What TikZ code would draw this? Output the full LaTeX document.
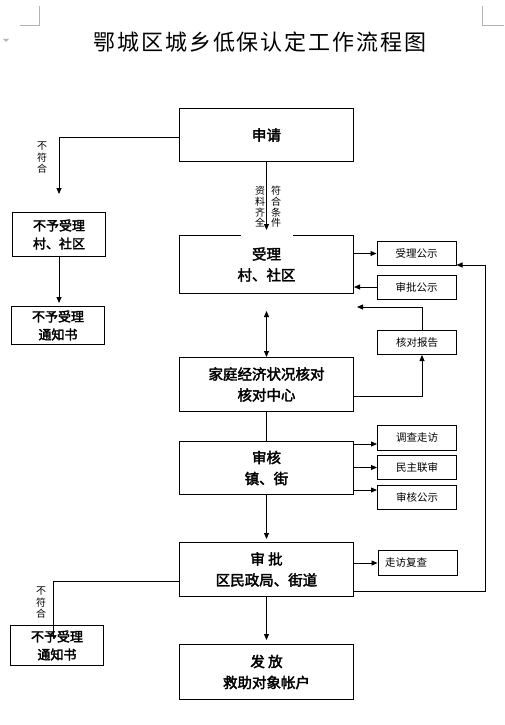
\documentclass[tikz,border=0pt]{standalone}
\usepackage{fontspec}
\setmainfont{Noto Sans CJK SC}[AutoFakeBold=2.5]
\newfontfamily\titlefont{Noto Sans CJK SC}[LetterSpace=9]
\usepackage{tikz}
\usetikzlibrary{positioning,arrows.meta,calc}

\begin{document}
\begin{tikzpicture}[
    x=1pt, y=1pt,
    node distance=47pt,
    mainbox/.style={rectangle, draw=black, line width=1pt, minimum width=174pt, minimum height=54pt, align=center, inner sep=0pt, font=\bfseries\fontsize{14.5}{21}\selectfont},
    sidebox/.style={rectangle, draw=black, line width=1pt, minimum width=79pt, minimum height=24pt, inner sep=0pt, font=\fontsize{10.5}{12}\selectfont},
    leftbox/.style={rectangle, draw=black, line width=1pt, minimum width=93pt, align=center, inner sep=0pt, font=\bfseries\fontsize{13}{18}\selectfont},
    vlabel/.style={align=center, inner sep=0pt, font=\fontsize{10}{11.5}\selectfont},
    arrow/.style={-{Triangle[length=6pt,width=5pt]}, line width=0.8pt},
    both/.style={{Triangle[length=6pt,width=5pt]}-{Triangle[length=6pt,width=5pt]}, line width=0.8pt},
    link/.style={line width=0.8pt}
]
\useasboundingbox (0,0) rectangle (504,-725);

% page corner marks
\draw[gray!60, line width=0.6pt] (39,-6) -- (39,-25) -- (20,-25);
\draw[gray!60, line width=0.6pt] (482,-6) -- (482,-25) -- (504,-25);
\fill[gray!60] (3,-39) -- (9,-39) -- (6,-42) -- cycle;

\node[font=\titlefont\fontsize{22}{26}\selectfont] (title) at (260,-42) {鄂城区城乡低保认定工作流程图};

% main column
\node[mainbox, minimum height=53pt] (apply) at (266.5,-135) {申请};
\node[mainbox, minimum height=58pt, below=73pt of apply] (accept) {受理\\村、社区};
\node[mainbox, below=63pt of accept] (check) {家庭经济状况核对\\核对中心};
\node[mainbox, minimum height=53pt, below=29pt of check] (review) {审核\\镇、街};
\node[mainbox, below=of review] (approve) {审 批\\区民政局、街道};
\node[mainbox, minimum height=55pt, below=of approve] (payout) {发 放\\救助对象帐户};

% right side
\node[sidebox] (pubaccept) at (416.5,-253.5) {受理公示};
\node[sidebox] (pubapprove) at (416.5,-287) {审批公示};
\node[sidebox] (report) at (417,-342.5) {核对报告};
\node[sidebox, minimum height=25pt] (visit) at (417,-438) {调查走访};
\node[sidebox] (joint) at (417,-467.5) {民主联审};
\node[sidebox] (pubreview) at (417,-497.5) {审核公示};
\node[sidebox, minimum height=25pt, text width=65pt, align=left, inner xsep=7pt] (recheck) at (417.5,-563) {走访复查};

% left side
\node[leftbox, minimum height=44pt] (reject) at (59,-234.5) {不予受理\\村、社区};
\node[leftbox, minimum height=38pt] (notice) at (58,-325.5) {不予受理\\通知书};
\node[leftbox, minimum height=40pt] (notice2) at (57,-645.5) {不予受理\\通知书};

% connectors
\coordinate (nofork) at (59,-194);
\draw[arrow] ([yshift=-2pt]apply.west) -| (nofork);
\node[vlabel] (no1) at (42,-158) {不\\符\\合};
\draw[arrow, shorten >=3pt] (reject.south) -- (reject.south |- notice.north);

\node[fill=white, minimum width=52pt, minimum height=54pt, inner sep=0pt] (gap) at (267,-210) {};
\draw[arrow, shorten >=5pt] (apply) -- (accept);
\node[vlabel, font=\fontsize{10}{10.7}\selectfont] (cond1) at (260,-207) {资\\料\\齐\\全};
\node[vlabel, font=\fontsize{10}{10.7}\selectfont] (cond2) at (276,-207) {符\\合\\条\\件};

\draw[arrow] (accept.east |- pubaccept) -- (pubaccept);
\draw[arrow] (pubapprove) -- (accept.east |- pubapprove);
\coordinate (back) at (357,-307);
\draw[arrow] ([xshift=5pt]report.north) |- (back);
\draw[arrow] ([yshift=-12pt]check.east) -| ([xshift=5pt]report.south);
\coordinate (checkup) at (267,-311);
\draw[both] (check.north |- checkup) -- (check.north);
\draw[link] (check) -- (review);
\draw[arrow, shorten >=3pt] (review) -- (approve);

\coordinate (v1) at ([yshift=-6pt]visit.west);
\draw[arrow] (review.east |- v1) -- (v1);
\draw[arrow] (review.east |- joint) -- (joint);
\coordinate (v3) at ([yshift=7.5pt]pubreview.west);
\draw[arrow] (review.east |- v3) -- (v3);
\draw[arrow] (approve.east |- recheck) -- (recheck);

\coordinate (rail) at (485,-400);
\coordinate (back2) at ([yshift=1pt]pubaccept.south east);
\draw[arrow] ([yshift=-21.5pt]approve.east) -| (rail |- back2) -- (back2);

\coordinate (nofit) at (53,-638);
\draw[link] ([yshift=-11.5pt]approve.west) -| (nofit);
\node[vlabel] (no2) at (41,-603) {不\\符\\合};
\draw[arrow, shorten >=4pt] (approve) -- (payout);
\end{tikzpicture}
\end{document}
